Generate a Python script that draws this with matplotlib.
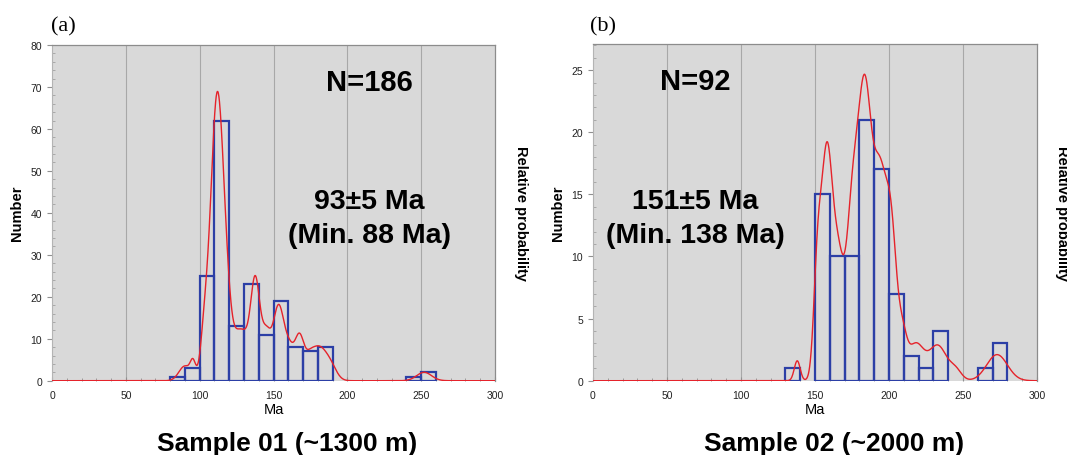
import numpy as np
import matplotlib.pyplot as plt
from matplotlib.ticker import MultipleLocator

plt.rcParams['font.family'] = ['Liberation Sans', 'DejaVu Sans']

# histogram bins (left edge, Ma) and zircon counts
bins_01 = [80, 90, 100, 110, 120, 130, 140, 150, 160, 170, 180, 240, 250]
counts_01 = [1, 3, 25, 62, 13, 23, 11, 19, 8, 7, 8, 1, 2]
bins_02 = [130, 150, 160, 170, 180, 190, 200, 210, 220, 230, 260, 270]
counts_02 = [1, 15, 10, 10, 21, 17, 7, 2, 1, 4, 1, 3]

# probability density peaks: (age Ma, height in count units, sigma Ma)
peaks_01 = [(90, 3.5, 4), (95.5, 3.7, 1.8), (103, 8, 2.5), (112, 68.5, 4.6),
            (119, 6, 3), (126, 10, 4), (131, 5, 3), (137.6, 24, 3.2),
            (145, 10, 3), (153.4, 17.6, 3.8), (161, 6.5, 3.2), (167.6, 9.8, 3),
            (174, 2.6, 3), (180.5, 7.8, 5.5), (189, 2.5, 4), (252, 2.0, 5)]
peaks_02 = [(138, 1.6, 2), (151.5, 7, 2.5), (158, 18.4, 4), (166, 8, 3.5),
            (175, 12.5, 4), (183.4, 21.6, 4.5), (194, 16, 5), (202, 9, 3.5),
            (209, 3, 3), (218, 2.9, 5.5), (233, 2.8, 6), (245, 0.8, 4),
            (273, 2.1, 7)]

titles = ['Sample 01 (~1300 m)', 'Sample 02 (~2000 m)']
n_text = ['N=186', 'N=92']
age_text = ['93±5 Ma', '151±5 Ma']
min_text = ['(Min. 88 Ma)', '(Min. 138 Ma)']
panel_tag = ['(a)', '(b)']

BG = '#d9d9d9'
BLUE = '#2c3fa6'
RED = '#e5232b'


def density(x, peaks):
    y = np.zeros_like(x)
    for mu, h, s in peaks:
        y += h * np.exp(-(x - mu) ** 2 / (2 * s ** 2))
    return y


fig = plt.figure(figsize=(10.67, 4.56), dpi=100)
W, H = 1067, 456

# axes boxes in pixels: left, right, top, bottom
boxes = [(52, 495, 46, 381.7), (593, 1037, 45, 381.7)]
ylims = [80, 27.1]
ymajor = [10, 5]
yminor = [2, 1]
data = [(bins_01, counts_01, peaks_01), (bins_02, counts_02, peaks_02)]
text_x = [0.716, 0.231]
title_x = [287, 834]
tag_x = [51, 590]
num_x = [17, 558]
rel_x = [521, 1062]

xs = np.linspace(0, 300, 1501)

for i, (l, r, t, b) in enumerate(boxes):
    ax = fig.add_axes([l / W, 1 - b / H, (r - l) / W, (b - t) / H])
    ax.set_facecolor(BG)
    bins, counts, peaks = data[i]

    for g in [50, 100, 150, 200, 250]:
        ax.axvline(g, color='#a8a8a8', lw=0.8, zorder=1)

    ax.bar(bins, counts, width=10, align='edge', fill=False,
           edgecolor=BLUE, linewidth=1.6, zorder=2)
    ax.plot(xs, density(xs, peaks), color=RED, lw=1.0, zorder=3)

    ax.set_xlim(0, 300)
    ax.set_ylim(0, ylims[i])
    ax.xaxis.set_major_locator(MultipleLocator(50))
    ax.xaxis.set_minor_locator(MultipleLocator(10))
    ax.yaxis.set_major_locator(MultipleLocator(ymajor[i]))
    ax.yaxis.set_minor_locator(MultipleLocator(yminor[i]))
    ax.tick_params(axis='x', which='major', direction='in', length=3,
                   color='#909090', labelsize=7.5, pad=7, labelcolor='#222222')
    ax.tick_params(axis='x', which='minor', direction='in', length=2.5,
                   color='#909090')
    ax.tick_params(axis='y', which='major', direction='out', length=3.5,
                   color='#909090', labelsize=7.5, pad=3.5, labelcolor='#222222')
    ax.tick_params(axis='y', which='minor', direction='in', length=2,
                   color='#a0a0a0')

    for side in ['top', 'right']:
        ax.spines[side].set_color('#8c8c8c')
        ax.spines[side].set_linewidth(0.9)
    ax.spines['left'].set_color('#b4b4b4')
    ax.spines['left'].set_linewidth(0.8)
    ax.spines['bottom'].set_visible(False)

    ax.text(text_x[i], 0.889, n_text[i], transform=ax.transAxes,
            ha='center', va='center', fontsize=21, fontweight='bold')
    ax.text(text_x[i], 0.535, age_text[i], transform=ax.transAxes,
            ha='center', va='center', fontsize=20.5, fontweight='bold')
    ax.text(text_x[i], 0.434, min_text[i], transform=ax.transAxes,
            ha='center', va='center', fontsize=20.5, fontweight='bold')

    cx = (l + r) / 2
    fig.text(cx / W, 1 - 410 / H, 'Ma', ha='center', va='center', fontsize=10.5)
    fig.text(num_x[i] / W, 1 - 213 / H, 'Number', rotation=90,
             ha='center', va='center', fontsize=10.5, fontweight='bold')
    fig.text(rel_x[i] / W, 1 - 213 / H, 'Relative probability', rotation=-90,
             ha='center', va='center', fontsize=10.5, fontweight='bold')
    fig.text(title_x[i] / W, 1 - 444 / H, titles[i], ha='center', va='center',
             fontsize=19, fontweight='bold')
    fig.text(tag_x[i] / W, 1 - 27 / H, panel_tag[i], ha='left', va='center',
             fontsize=16, family=['Liberation Serif', 'DejaVu Serif'])

fig.savefig('out.png', dpi=100)
